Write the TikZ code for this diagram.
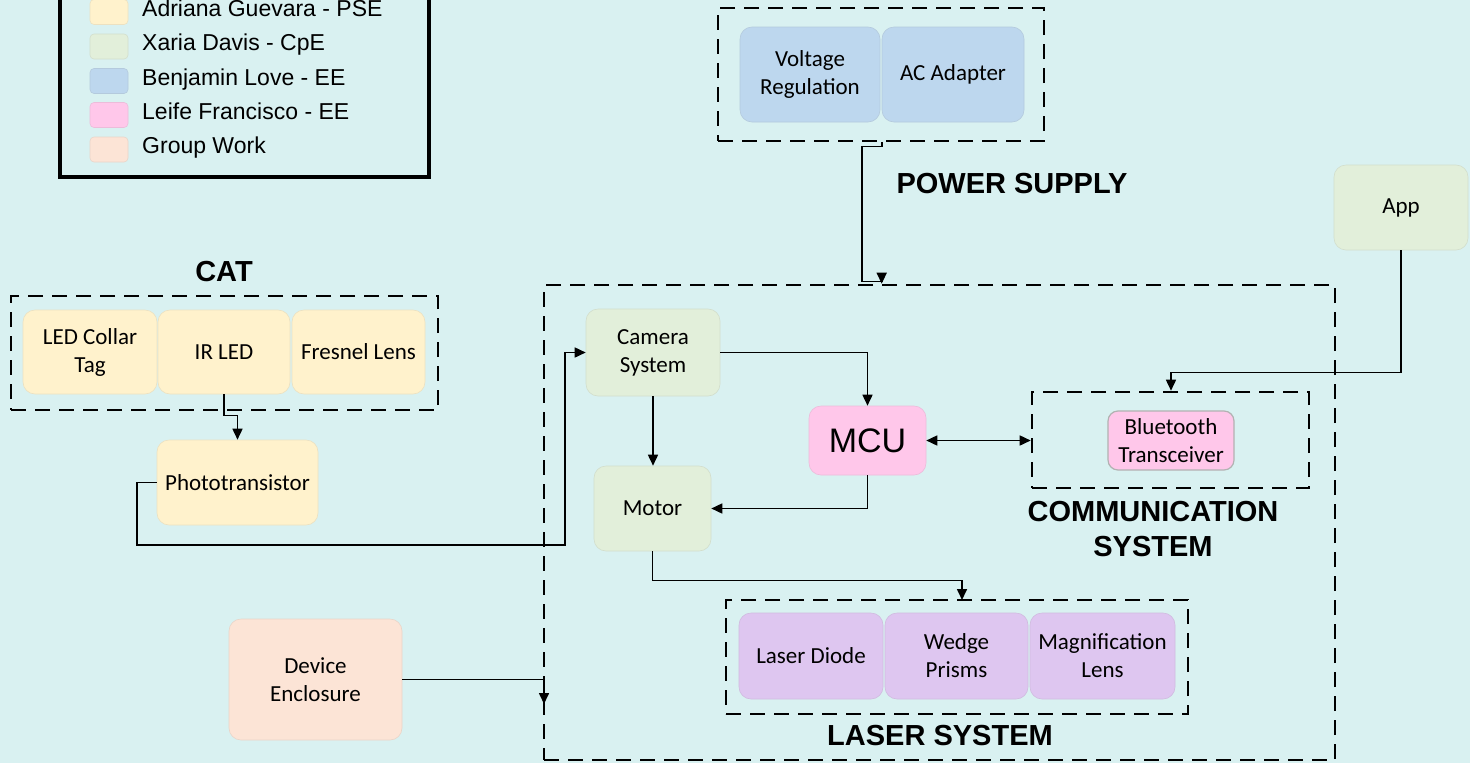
\documentclass[tikz,border=0pt]{standalone}
\usepackage{fontspec}
\setmainfont{Liberation Sans}
\newfontfamily\carlito{Carlito}
\usetikzlibrary{arrows.meta,calc}
\definecolor{bg}{RGB}{217,241,241}
\definecolor{cyel}{RGB}{255,242,204}
\definecolor{cgrn}{RGB}{226,239,218}
\definecolor{cblu}{RGB}{189,215,238}
\definecolor{cpnk}{RGB}{255,199,234}
\definecolor{cpch}{RGB}{252,228,214}
\definecolor{cpur}{RGB}{222,198,240}
\newcommand\bxfont{\carlito\fontsize{23}{28}\selectfont}
\newcommand\hdfont{\fontsize{29}{35}\selectfont\bfseries}
\newcommand\lgfont{\fontsize{23}{27}\selectfont}
\begin{document}
\begin{tikzpicture}[x=1pt,y=-1pt,
  blk/.style={rounded corners=12pt, align=center, inner sep=0pt, font=\bxfont, line width=0.6pt},
  yel/.style={blk, fill=cyel, draw=cyel!85!gray},
  grn/.style={blk, fill=cgrn, draw=cgrn!85!gray},
  blu/.style={blk, fill=cblu, draw=cblu!85!gray},
  pnk/.style={blk, fill=cpnk, draw=cpnk!85!gray},
  pch/.style={blk, fill=cpch, draw=cpch!85!gray},
  pur/.style={blk, fill=cpur, draw=cpur!85!gray},
  grp/.style={draw=black, line width=2.6pt, dash pattern=on 15pt off 9pt, inner sep=0pt},
  arr/.style={draw=black, line width=1.6pt, -{Triangle[length=11pt,width=10pt]}},
  heading/.style={font=\hdfont, inner sep=0pt},
  swatch/.style={rounded corners=4pt, minimum width=38pt, minimum height=25pt, inner sep=0pt, line width=0.6pt},
  lgtext/.style={font=\lgfont, anchor=base west, inner sep=0pt}
]
\useasboundingbox (0,0) rectangle (1470,763);
\clip (0,0) rectangle (1470,763);
\fill[bg] (0,0) rectangle (1470,763);

% legend
\node[draw=black, line width=3.5pt, minimum width=369pt, minimum height=200pt, inner sep=0pt] (legend) at (244.5,77) {};
\node[swatch, fill=cyel, draw=cyel!85!gray] (s1) at (109,12) {};
\node[swatch, fill=cgrn, draw=cgrn!85!gray] (s2) at (109,46.5) {};
\node[swatch, fill=cblu, draw=cblu!85!gray] (s3) at (109,81) {};
\node[swatch, fill=cpnk, draw=cpnk!85!gray] (s4) at (109,115) {};
\node[swatch, fill=cpch, draw=cpch!85!gray] (s5) at (109,149.5) {};
\node[lgtext] (t1) at (142,16) {Adriana Guevara - PSE};
\node[lgtext] (t2) at (142,50.5) {Xaria Davis - CpE};
\node[lgtext] (t3) at (142,85) {Benjamin Love - EE};
\node[lgtext] (t4) at (142,119) {Leife Francisco - EE};
\node[lgtext] (t5) at (142,153.5) {Group Work};

% power supply
\node[grp, minimum width=326pt, minimum height=133pt] (ps) at (881,74.5) {};
\node[blu, minimum width=140pt, minimum height=95pt] (vr) at (810,74.5) {Voltage\\Regulation};
\node[blu, minimum width=142pt, minimum height=95pt] (ac) at (953,74.5) {AC Adapter};
\node[heading, anchor=base] (pstitle) at (1012,193) {POWER SUPPLY};

% app
\node[grn, minimum width=134pt, minimum height=85pt] (app) at (1401,207.5) {App};

% CAT
\node[heading, anchor=base] (cattitle) at (224,281) {CAT};
\node[grp, minimum width=427pt, minimum height=114pt] (cat) at (224.5,353) {};
\node[yel, minimum width=134pt, minimum height=84pt] (lct) at (90,352) {LED Collar\\Tag};
\node[yel, minimum width=132pt, minimum height=84pt] (ir) at (224,352) {IR LED};
\node[yel, minimum width=133pt, minimum height=84pt] (fl) at (358.5,352) {Fresnel Lens};
\node[yel, minimum width=161pt, minimum height=85pt] (photo) at (237.5,482.5) {Phototransistor};

% device enclosure
\node[pch, minimum width=173pt, minimum height=121pt] (dev) at (315.5,679.5) {Device\\Enclosure};

% main system
\node[grp, minimum width=791pt, minimum height=475pt] (main) at (939.5,522.5) {};
\node[grn, minimum width=134pt, minimum height=87pt] (cam) at (653,352.5) {Camera\\System};
\node[grn, minimum width=117pt, minimum height=85pt] (motor) at (652.5,508.5) {Motor};
\node[pnk, minimum width=117pt, minimum height=69pt, font=\fontsize{34}{40}\selectfont] (mcu) at (867.5,440.5) {MCU};

% communication
\node[grp, minimum width=277pt, minimum height=96pt] (comm) at (1170.5,440) {};
\node[pnk, draw=gray!60, line width=1.2pt, rounded corners=10pt, minimum width=126pt, minimum height=59pt] (bt) at (1171,440.5) {Bluetooth\\Transceiver};
\node[heading, align=center, anchor=north] (commtitle) at (1153,501) {COMMUNICATION\\SYSTEM};

% laser
\node[grp, minimum width=462pt, minimum height=114pt] (laser) at (957,657) {};
\node[pur, minimum width=144pt, minimum height=86pt] (ld) at (811,656) {Laser Diode};
\node[pur, minimum width=143pt, minimum height=86pt] (wp) at (956.5,656) {Wedge\\Prisms};
\node[pur, minimum width=145pt, minimum height=86pt] (ml) at (1102.5,656) {Magnification\\Lens};
\node[heading, anchor=base] (lasertitle) at (940,745) {LASER SYSTEM};

% connectors
\coordinate (lasin) at (962,600);
\coordinate (devin) at (544,704);
\draw[arr] (ps.south -| ac.west) -- ++(0,4) -- ++(-20,0) -- ++(0,135) -| (main.north -| ac.west);
\draw[arr] (app.south) -- ++(0,122) -| (bt.north |- comm.north);
\draw[arr] (cam.east) -| (mcu.north);
\draw[arr] (cam.south) -- (cam.south |- motor.north);
\draw[arr] (mcu.south) |- (motor.east);
\draw[draw=black, line width=1.6pt, {Triangle[length=11pt,width=10pt]}-{Triangle[length=11pt,width=10pt]}] (mcu.east) -- (mcu.east -| comm.west);
\draw[arr] (motor.south) -- ++(0,29) -| (lasin);
\draw[arr] (ir.south) -- ++(0,21) -| (photo.north);
\draw[arr] (photo.west) -- ++(-20,0) |- (565,545) |- (cam.west);
\draw[arr] (dev.east) -| (devin);
\end{tikzpicture}
\end{document}
